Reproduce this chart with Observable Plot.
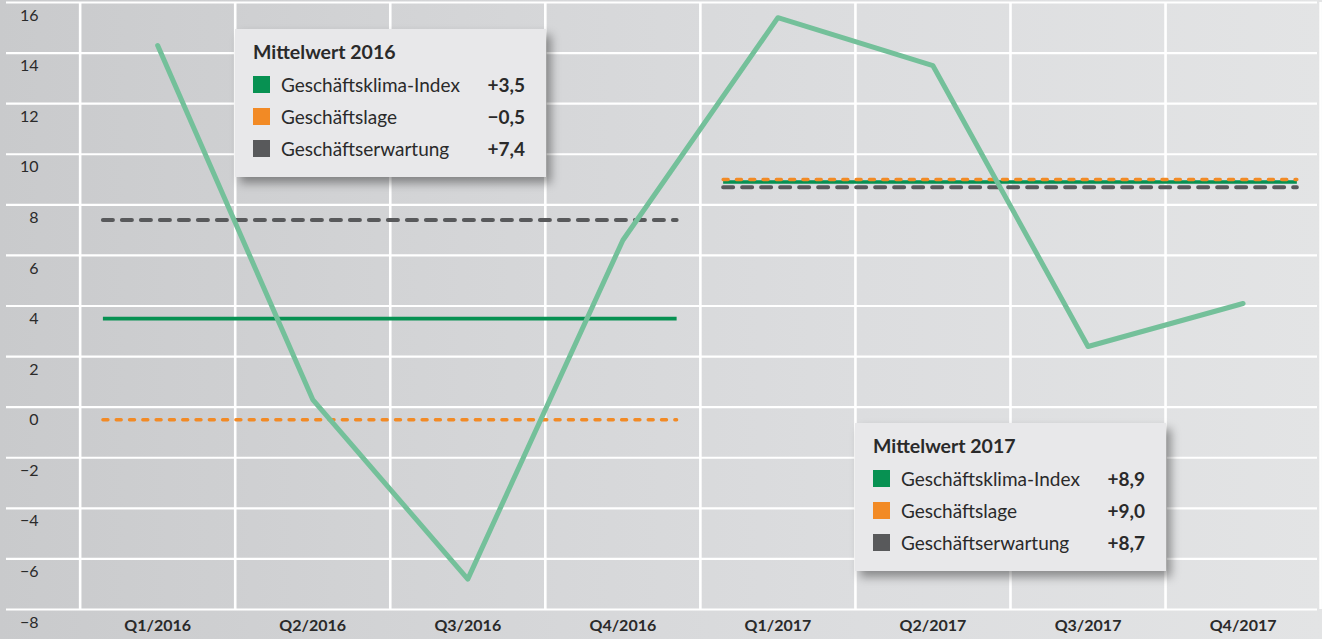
<!DOCTYPE html>
<html>
<head>
<meta charset="utf-8">
<script src="https://cdn.jsdelivr.net/npm/d3@7"></script>
<script src="https://cdn.jsdelivr.net/npm/@observablehq/plot@0.6"></script>
<style>
  html, body { margin: 0; padding: 0; background: #d6d7d9; }
  #wrap { position: relative; width: 1322px; height: 639px; font-family: Lato, "Open Sans", sans-serif; }
  .legend { position: absolute; background: #e8e8ea; box-shadow: 5px 6px 9px rgba(0,0,0,0.38); color: #2a2a2a; }
  .legend .title { position: absolute; left: 18px; top: 8px; font-size: 19.5px; font-weight: 700; line-height: 30px; }
  .legend .row { position: absolute; left: 18px; right: 21px; height: 32px; display: flex; align-items: center; font-size: 19px; }
  .legend .sw { width: 17px; height: 17px; margin-right: 11px; flex: none; }
  .legend .lab { flex: 1; }
  .legend .val { font-weight: 700; }
</style>
</head>
<body>
<div id="wrap"></div>
<script>
// ---- data ----
const quarters = ["Q1/2016","Q2/2016","Q3/2016","Q4/2016","Q1/2017","Q2/2017","Q3/2017","Q4/2017"];
const klimaIndex = [14.3, 0.3, -6.8, 6.6, 15.4, 13.5, 2.4, 4.1];
const years = ["2016", "2017"];
const meanKlima = [3.5, 8.9];
const meanLage = [-0.5, 9.0];
const meanErwartung = [7.4, 8.7];
const meanLabels = ["+3,5|−0,5|+7,4", "+8,9|+9,0|+8,7"];
const seriesNames = ["Geschäftsklima-Index", "Geschäftslage", "Geschäftserwartung"];
const yTicks = [-8, -6, -4, -2, 0, 2, 4, 6, 8, 10, 12, 14, 16];

// ---- derived tables ----
const lineData = quarters.map((q, i) => ({i, q, v: klimaIndex[i]}));
const yearSpan = years.map(y => {
  const idx = quarters.map((q, i) => [q, i]).filter(([q]) => q.endsWith(y)).map(([, i]) => i);
  return {x1: d3.min(idx) - 0.35, x2: d3.max(idx) + 0.35};
});
const mk = (arr) => years.map((y, k) => ({year: y, value: arr[k], ...yearSpan[k]}));
const bounds = d3.range(quarters.length + 1).map(i => i - 0.5);

const green = "#079152", orange = "#f28a25", gray = "#58595b", lineGreen = "#74c09a";
const colors = [green, orange, gray];

const chart = Plot.plot({
  width: 1322,
  height: 639,
  marginTop: 2,
  marginBottom: 30,
  marginLeft: 6,
  marginRight: 5,
  style: {background: "linear-gradient(to right, #c9cacc 0%, #d4d5d7 35%, #dcdddf 65%, #e3e4e5 100%)", fontFamily: "Lato, 'Open Sans', sans-serif", color: "#2a2a2a"},
  x: {domain: [-0.975, quarters.length - 0.52]},
  y: {domain: [-8, 16]},
  marks: [
    Plot.ruleY(yTicks, {stroke: "white", strokeWidth: 2.2}),
    Plot.ruleX(bounds, {y1: -8, y2: 16, stroke: "white", strokeWidth: 2.6}),
    Plot.ruleY(mk(meanErwartung), {y: "value", x1: "x1", x2: "x2", stroke: gray, strokeWidth: 4, strokeDasharray: "10,9", strokeLinecap: "round"}),
    Plot.ruleY(mk(meanKlima), {y: "value", x1: "x1", x2: "x2", stroke: green, strokeWidth: 3.6}),
    Plot.ruleY(mk(meanLage), {y: "value", x1: "x1", x2: "x2", stroke: orange, strokeWidth: 3.4, strokeDasharray: "5,8.3", strokeLinecap: "round"}),
    Plot.line(lineData, {x: "i", y: "v", stroke: lineGreen, strokeWidth: 5}),
    Plot.axisY(yTicks, {anchor: "left", tickSize: 0, tickPadding: 0, dx: 32, dy: 13, fontSize: 16, textAnchor: "end", tickFormat: d => d < 0 ? "−" + Math.abs(d) : String(d)}),
    Plot.axisX(d3.range(quarters.length), {anchor: "bottom", tickSize: 0, tickPadding: 10, fontSize: 16, fontWeight: 700, tickFormat: i => quarters[i]})
  ]
});
const wrap = document.getElementById("wrap");
wrap.appendChild(chart);

// ---- legend boxes (overlay) ----
const boxPos = [{left: 235, top: 29}, {left: 855, top: 423}];
years.forEach((y, k) => {
  const box = document.createElement("div");
  box.className = "legend";
  Object.assign(box.style, {left: boxPos[k].left + "px", top: boxPos[k].top + "px", width: "311px", height: "148px"});
  const t = document.createElement("div");
  t.className = "title";
  t.textContent = "Mittelwert " + y;
  box.appendChild(t);
  const vals = meanLabels[k].split("|");
  seriesNames.forEach((name, j) => {
    const r = document.createElement("div");
    r.className = "row";
    r.style.top = (39 + j * 32) + "px";
    r.innerHTML = `<span class="sw" style="background:${colors[j]}"></span><span class="lab">${name}</span><span class="val">${vals[j]}</span>`;
    box.appendChild(r);
  });
  wrap.appendChild(box);
});
</script>
</body>
</html>
